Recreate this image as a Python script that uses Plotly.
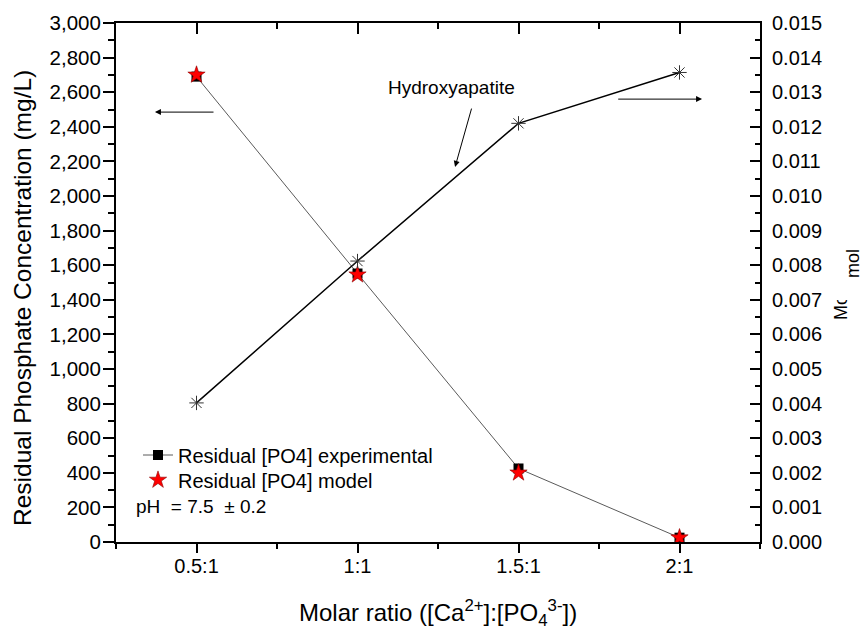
import plotly.graph_objects as go

categories = ["0.5:1", "1:1", "1.5:1", "2:1"]
x_pos = [1, 2, 3, 4]
residual_exp = [2690, 1552, 425, 25]
residual_model = [2700, 1545, 400, 25]
hydroxyapatite_mol = [0.00402, 0.00812, 0.0121, 0.01357]

# page body has an 8px margin, so the figure is drawn 8px smaller and offset
OFF = 8
W, H = 868 - OFF, 630 - OFF
# plot area in reference (window) pixels
PX0, PX1, PY0, PY1 = 116, 760, 23, 542
L, R = PX0 - OFF, 868 - PX1
T, B = PY0 - OFF, 630 - PY1
pw, ph = PX1 - PX0, PY1 - PY0

def px(xp):
    return (xp - PX0) / pw

def py(yp):
    return (PY1 - yp) / ph

FONT = "Liberation Sans, Arial, sans-serif"

fig = go.Figure()

fig.add_trace(go.Scatter(
    x=x_pos, y=residual_exp, mode="lines+markers",
    name="Residual [PO4] experimental", legend="legend",
    line=dict(color="#5a5a5a", width=1),
    marker=dict(symbol="square", size=10, color="black"),
))
fig.add_trace(go.Scatter(
    x=x_pos, y=residual_model, mode="markers",
    name="Residual [PO4] model", legend="legend2",
    marker=dict(symbol="star", size=13, color="#ff0000",
                line=dict(color="#8b0000", width=0.6)),
))
fig.add_trace(go.Scatter(
    x=x_pos, y=hydroxyapatite_mol, mode="lines+markers",
    name="Hydroxyapatite", yaxis="y2", showlegend=False,
    line=dict(color="black", width=1.5),
    marker=dict(symbol="asterisk-open", size=12, color="#333333",
                line=dict(color="#333333", width=1)),
))
# dummy trace to carry the top (mirrored) axis
fig.add_trace(go.Scatter(
    x=x_pos, y=[None] * 4, xaxis="x2", yaxis="y", showlegend=False,
    mode="markers", hoverinfo="skip",
))

axis_common = dict(showline=True, linecolor="black", linewidth=2,
                   showgrid=False, zeroline=False, automargin=False,
                   tickcolor="black", tickwidth=1.5)

leg_common = dict(xanchor="left", yanchor="middle", bgcolor="rgba(0,0,0,0)",
                  font=dict(size=20), borderwidth=0)

fig.update_layout(
    width=W, height=H,
    margin=dict(l=L, r=R, t=T, b=B),
    paper_bgcolor="white", plot_bgcolor="white",
    font=dict(family=FONT, size=20, color="black"),
    showlegend=True,
    legend=dict(x=px(138), y=py(455), **leg_common),
    legend2=dict(x=px(138), y=py(480), **leg_common),
    xaxis=dict(**axis_common, range=[0.5, 4.5], tickvals=x_pos,
               ticktext=categories, ticks="outside", ticklen=9,
               minor=dict(tickvals=[0.5, 1.5, 2.5, 3.5, 4.5], ticks="outside",
                          ticklen=5, tickcolor="black", tickwidth=1.5),
               tickfont=dict(size=20), ticklabelstandoff=-4),
    xaxis2=dict(**axis_common, overlaying="x", side="top", range=[0.5, 4.5],
                tickvals=x_pos, ticks="inside", ticklen=11,
                showticklabels=False,
                minor=dict(tickvals=[1.5, 2.5, 3.5], ticks="inside",
                           ticklen=6, tickcolor="black", tickwidth=1.5)),
    yaxis=dict(**axis_common, range=[0, 3000], dtick=200, tickformat=",d",
               ticks="outside", ticklen=11,
               minor=dict(dtick=100, ticks="outside", ticklen=6,
                          tickcolor="black", tickwidth=1.5),
               tickfont=dict(size=20.5), ticklabelstandoff=-2),
    yaxis2=dict(**axis_common, overlaying="y", side="right",
                range=[0, 0.015], dtick=0.001, tickformat=".3f",
                ticks="inside", ticklen=10,
                minor=dict(dtick=0.0005, ticks="inside", ticklen=5,
                           tickcolor="black", tickwidth=1.5),
                tickfont=dict(size=20), ticklabelstandoff=6),
)

annotations = [
    # left axis title
    dict(text="Residual Phosphate Concentration (mg/L)", xref="paper", yref="paper",
         x=px(23), y=py(298), textangle=-90, showarrow=False,
         font=dict(size=24.5), xanchor="center", yanchor="middle"),
    # x axis title
    dict(text="Molar ratio ([Ca<sup>2+</sup>]:[PO<sub>4</sub><sup>3-</sup>])",
         xref="paper", yref="paper", x=px(438), y=py(613),
         showarrow=False, font=dict(size=24), xanchor="center", yanchor="middle"),
    # right axis title fragments (clipped as in the original)
    dict(text="Mo", xref="paper", yref="paper", x=px(841), y=py(310),
         textangle=-90, showarrow=False, font=dict(size=18),
         width=20, align="left", xanchor="center", yanchor="middle"),
    dict(text="mol", xref="paper", yref="paper", x=px(853), y=py(264),
         textangle=-90, showarrow=False, font=dict(size=18),
         xanchor="center", yanchor="middle"),
    # pH note
    dict(text="pH  = 7.5  ± 0.2", xref="paper", yref="paper",
         x=px(134), y=py(506), showarrow=False, font=dict(size=19),
         xanchor="left", yanchor="middle"),
    # Hydroxyapatite label + arrow
    dict(text="Hydroxyapatite", xref="x", yref="y2", x=2.586, y=0.01315,
         showarrow=False, font=dict(size=19), xanchor="center", yanchor="middle"),
    dict(text="", xref="x", yref="y2", x=2.606, y=0.01084,
         axref="x", ayref="y2", ax=2.711, ay=0.01257,
         showarrow=True, arrowhead=2, arrowsize=1.2, arrowwidth=1, arrowcolor="black"),
    # left pointing arrow (to left axis)
    dict(text="", xref="x", yref="y", x=0.742, y=2485,
         axref="x", ayref="y", ax=1.115, ay=2485,
         showarrow=True, arrowhead=2, arrowsize=1.2, arrowwidth=1, arrowcolor="black"),
    # right pointing arrow (to right axis)
    dict(text="", xref="x", yref="y2", x=4.14, y=0.0128,
         axref="x", ayref="y2", ax=3.61, ay=0.0128,
         showarrow=True, arrowhead=2, arrowsize=1.2, arrowwidth=1, arrowcolor="black"),
]
fig.update_layout(annotations=annotations)

fig.write_html("out.html")
